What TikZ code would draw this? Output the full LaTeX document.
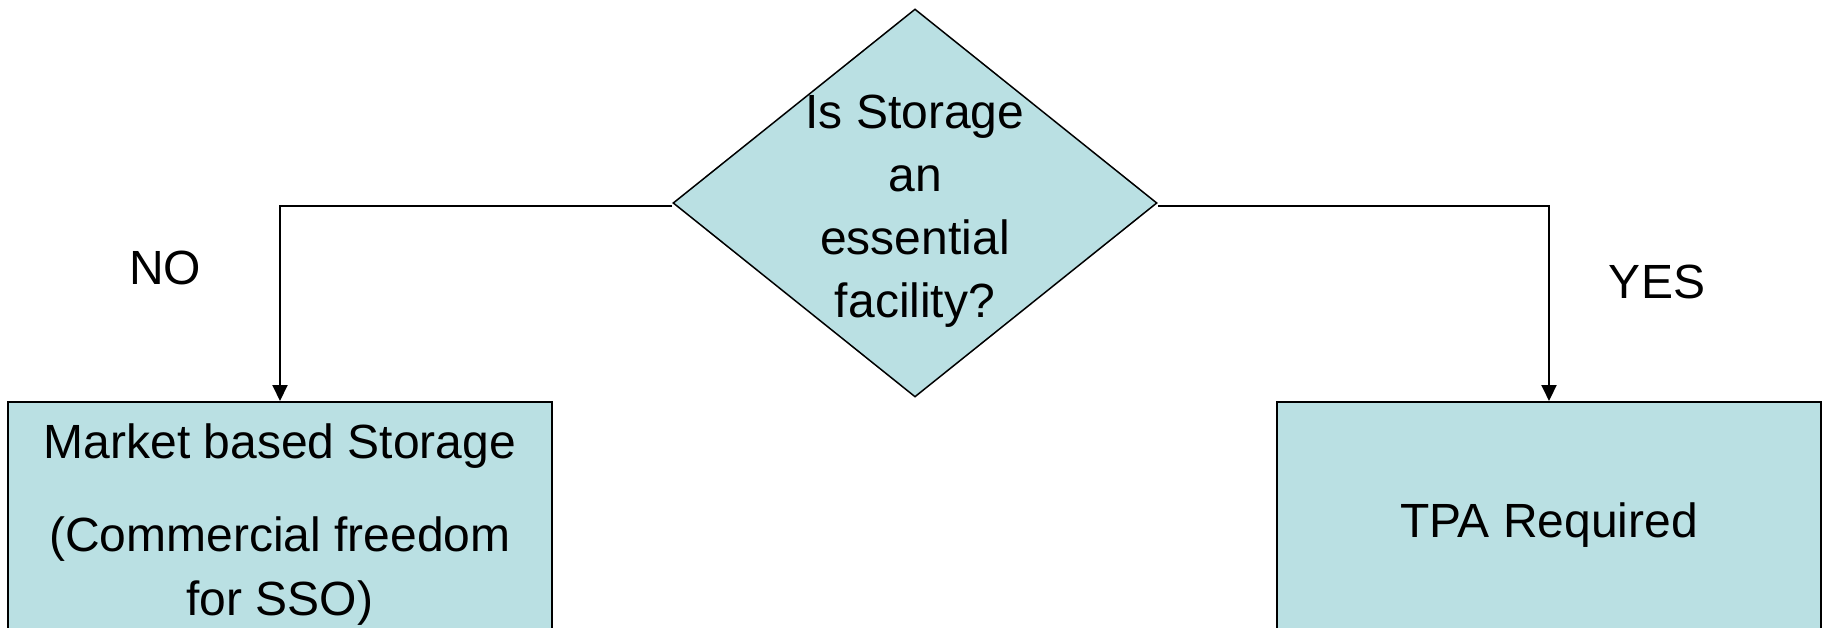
\documentclass[tikz,border=0pt]{standalone}
\usepackage{fontspec}
\setmainfont{Liberation Sans}
\usetikzlibrary{shapes.geometric,arrows.meta}
\definecolor{boxfill}{RGB}{186,224,227}
\begin{document}
\begin{tikzpicture}[x=1pt,y=-1pt,
  txt/.style={font=\fontsize{48}{63}\selectfont, inner sep=0pt},
  decision/.style={diamond, draw=black, line width=1.5pt, fill=boxfill,
    minimum width=484pt, minimum height=388pt, inner sep=0pt},
  outcome/.style={rectangle, draw=black, line width=2pt, fill=boxfill,
    minimum width=544pt, minimum height=246pt, align=center,
    font=\fontsize{48}{64}\selectfont},
  flow/.style={draw=black, line width=2pt, -{Triangle[length=16pt,width=15pt]}},
]
\useasboundingbox (0,0) rectangle (1822,628);
\clip (0,0) rectangle (1822,628);
\fill[white] (0,0) rectangle (1822,628);

\node[decision] (d) at (915,203) {};
\node[txt, align=center] (dtext) at (915,211.5) {Is Storage\\an\\essential\\facility?};

\node[outcome] (lb) at (280,525) {Market based Storage\\[29pt](Commercial freedom\\for SSO)};
\node[outcome] (rb) at (1549,525) {TPA Required};

\draw[flow] ([yshift=-3pt]d.west) -| (lb.north);
\draw[flow] ([yshift=-3pt]d.east) -| (rb.north);

\node[txt] (no) at (165,268) {NO};
\node[txt] (yes) at (1657,282) {YES};
\end{tikzpicture}
\end{document}
